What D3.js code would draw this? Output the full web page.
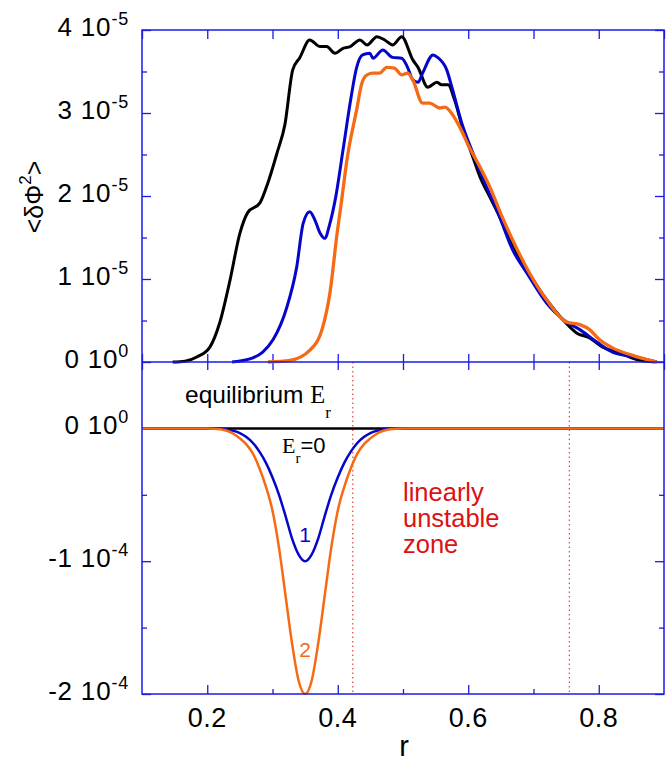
<!DOCTYPE html>
<html>
<head>
<meta charset="utf-8">
<script src="https://cdn.jsdelivr.net/npm/d3@7"></script>
<style>
  body { margin: 0; background: #fff; }
  text { font-family: "Liberation Sans", Arial, sans-serif; }
</style>
</head>
<body>
<script>
// fluctuation level <dPhi^2> (units of 1e-5) for the three runs
var rBlack = [0.147, 0.166, 0.184, 0.204, 0.219, 0.235, 0.250, 0.262, 0.281, 0.293, 0.307, 0.319, 0.331, 0.342, 0.357,
  0.373, 0.383, 0.396, 0.408, 0.419, 0.434, 0.445, 0.460, 0.472, 0.484, 0.498, 0.515, 0.523, 0.538, 0.552, 0.559,
  0.569, 0.579, 0.592, 0.607, 0.618, 0.633, 0.648, 0.664, 0.690, 0.720, 0.745, 0.766, 0.786, 0.806, 0.832, 0.863, 0.886];
var phiBlack = [0, 0.01, 0.06, 0.18, 0.47, 0.99, 1.55, 1.80, 1.92, 2.16, 2.52, 2.86, 3.52, 3.67, 3.88,
  3.80, 3.80, 3.72, 3.78, 3.80, 3.88, 3.82, 3.92, 3.88, 3.82, 3.92, 3.64, 3.55, 3.31, 3.37, 3.34,
  3.34, 3.16, 2.80, 2.47, 2.23, 1.99, 1.75, 1.47, 1.11, 0.75, 0.51, 0.35, 0.29, 0.18, 0.11, 0.02, 0];

var rBlue = [0.238, 0.270, 0.285, 0.301, 0.322, 0.337, 0.347, 0.357, 0.365, 0.373, 0.380, 0.388, 0.396, 0.408, 0.419,
  0.429, 0.438, 0.449, 0.454, 0.469, 0.484, 0.498, 0.507, 0.515, 0.523, 0.530, 0.546, 0.553, 0.567, 0.576, 0.590,
  0.607, 0.628, 0.644, 0.668, 0.690, 0.720, 0.751, 0.771, 0.797, 0.821, 0.863, 0.889];
var phiBlue = [0, 0.05, 0.12, 0.27, 0.66, 1.14, 1.67, 1.81, 1.71, 1.55, 1.49, 1.67, 1.95, 2.55, 3.12,
  3.55, 3.70, 3.72, 3.66, 3.76, 3.67, 3.66, 3.55, 3.40, 3.37, 3.48, 3.70, 3.67, 3.52, 3.28, 2.88,
  2.52, 2.11, 1.83, 1.35, 1.07, 0.71, 0.48, 0.39, 0.24, 0.12, 0.05, 0];

var rOrange = [0.293, 0.327, 0.357, 0.377, 0.388, 0.399, 0.406, 0.414, 0.429, 0.437, 0.445, 0.454, 0.464, 0.475, 0.487,
  0.498, 0.507, 0.515, 0.530, 0.541, 0.556, 0.564, 0.576, 0.587, 0.602, 0.618, 0.633, 0.653, 0.668, 0.694, 0.720,
  0.751, 0.771, 0.786, 0.801, 0.821, 0.852, 0.889];
var phiOrange = [0, 0.02, 0.14, 0.42, 0.83, 1.55, 1.95, 2.43, 3.04, 3.36, 3.46, 3.48, 3.48, 3.55, 3.54,
  3.46, 3.48, 3.40, 3.12, 3.12, 3.06, 3.07, 2.98, 2.83, 2.58, 2.35, 2.11, 1.73, 1.47, 1.07, 0.75,
  0.48, 0.45, 0.39, 0.27, 0.17, 0.08, 0];

// equilibrium radial electric field Er (units of 1e-4)
var rEr = [0.10, 0.19, 0.20, 0.21, 0.22, 0.23, 0.24, 0.25, 0.26, 0.27, 0.28, 0.29, 0.30, 0.31, 0.32, 0.33, 0.34, 0.35,
  0.36, 0.37, 0.38, 0.39, 0.40, 0.41, 0.42, 0.43, 0.44, 0.45, 0.46, 0.47, 0.48, 0.49, 0.50, 0.51, 0.90];
var erZero = [0, 0, 0, 0, 0, 0, 0, 0, 0, 0, 0, 0, 0, 0, 0, 0, 0, 0,
  0, 0, 0, 0, 0, 0, 0, 0, 0, 0, 0, 0, 0, 0, 0, 0, 0];
var erOne = [0, 0, 0, 0, -0.003, -0.008, -0.018, -0.035, -0.065, -0.11, -0.175, -0.26, -0.37, -0.50, -0.66, -0.83, -0.95, -1.0,
  -0.95, -0.83, -0.66, -0.50, -0.37, -0.26, -0.175, -0.11, -0.065, -0.035, -0.018, -0.008, -0.003, 0, 0, 0, 0];
var erTwo = [0, 0, 0, -0.002, -0.007, -0.018, -0.04, -0.075, -0.12, -0.19, -0.30, -0.44, -0.62, -0.90, -1.26, -1.62, -1.90, -2.0,
  -1.90, -1.62, -1.26, -0.90, -0.62, -0.44, -0.30, -0.19, -0.12, -0.075, -0.04, -0.018, -0.007, -0.002, 0, 0, 0];

// edges of the linearly unstable zone
var unstableEdges = [0.423, 0.755];

var xTicks = [0.2, 0.4, 0.6, 0.8];
var phiTicks = [0, 1, 2, 3, 4];
var erTicks = [0, -1, -2];

var plotLeft = 142, plotRight = 664, plotTop = 30, plotMid = 362, plotBottom = 694;
var axisColor = "#1a1ae8";
var blue = "#0505cc", orange = "#f66a14";

var svg = d3.select("body").append("svg")
    .attr("width", 666)
    .attr("height", 762);

var x = d3.scaleLinear().domain([0.1, 0.9]).range([plotLeft, plotRight]);
var yTop = d3.scaleLinear().domain([0, 4]).range([plotMid, plotTop]);
var yBot = d3.scaleLinear().domain([-2, 0.5]).range([plotBottom, plotMid]);

var lineTop = d3.line().x(function(d) { return x(d[0]); }).y(function(d) { return yTop(d[1]); }).curve(d3.curveMonotoneX);
var lineBot = d3.line().x(function(d) { return x(d[0]); }).y(function(d) { return yBot(d[1]); }).curve(d3.curveMonotoneX);

// ticks (axes without labels; labels are drawn separately for the "a 10^b" style)
function ticks(axis, tr, size) {
  var g = svg.append("g").attr("transform", tr)
    .call(axis.tickSize(size).tickFormat(""));
  g.select(".domain").remove();
  g.selectAll("line").attr("stroke", axisColor).attr("stroke-width", 1.3);
}
var xAll = d3.range(0.1, 0.91, 0.1);
ticks(d3.axisTop(x).tickValues(xAll), "translate(0," + plotTop + ")", -9);
ticks(d3.axisTop(x).tickValues(xAll), "translate(0," + plotMid + ")", 8);
ticks(d3.axisBottom(x).tickValues(xAll), "translate(0," + plotMid + ")", 8);
ticks(d3.axisBottom(x).tickValues(xTicks), "translate(0," + plotBottom + ")", -9);
ticks(d3.axisBottom(x).tickValues([0.3, 0.5, 0.7]), "translate(0," + plotBottom + ")", -5);

ticks(d3.axisLeft(yTop).tickValues(phiTicks), "translate(" + plotLeft + ",0)", -9);
ticks(d3.axisLeft(yTop).tickValues([0.5, 1.5, 2.5, 3.5]), "translate(" + plotLeft + ",0)", -5);
ticks(d3.axisRight(yTop).tickValues(phiTicks), "translate(" + plotRight + ",0)", -9);
ticks(d3.axisRight(yTop).tickValues([0.5, 1.5, 2.5, 3.5]), "translate(" + plotRight + ",0)", -5);
ticks(d3.axisLeft(yBot).tickValues(erTicks), "translate(" + plotLeft + ",0)", -9);
ticks(d3.axisLeft(yBot).tickValues([-0.5, -1.5]), "translate(" + plotLeft + ",0)", -5);
ticks(d3.axisRight(yBot).tickValues(erTicks), "translate(" + plotRight + ",0)", -9);
ticks(d3.axisRight(yBot).tickValues([-0.5, -1.5]), "translate(" + plotRight + ",0)", -5);

// unstable zone edges
svg.selectAll(".edge").data(unstableEdges).enter().append("line")
  .attr("class", "edge")
  .attr("x1", function(d) { return x(d); }).attr("x2", function(d) { return x(d); })
  .attr("y1", plotMid).attr("y2", plotBottom)
  .attr("stroke", "#e25555").attr("stroke-width", 1.3).attr("stroke-dasharray", "1.5,3");

// curves
var topSeries = [[rBlack, phiBlack, "#000", 3], [rBlue, phiBlue, blue, 3], [rOrange, phiOrange, orange, 3.3]];
topSeries.forEach(function(s) {
  svg.append("path")
    .attr("d", lineTop(d3.zip(s[0], s[1])))
    .attr("fill", "none").attr("stroke", s[2]).attr("stroke-width", s[3])
    .attr("stroke-linejoin", "round");
});
var botSeries = [[erZero, "#000"], [erOne, blue], [erTwo, orange]];
botSeries.forEach(function(s) {
  svg.append("path")
    .attr("d", lineBot(d3.zip(rEr, s[0])))
    .attr("fill", "none").attr("stroke", s[1]).attr("stroke-width", 2.5);
});

// frames
svg.append("rect").attr("x", plotLeft).attr("y", plotTop)
  .attr("width", plotRight - plotLeft).attr("height", plotBottom - plotTop)
  .attr("fill", "none").attr("stroke", axisColor).attr("stroke-width", 1.5);
svg.append("line").attr("x1", plotLeft).attr("x2", plotRight).attr("y1", plotMid).attr("y2", plotMid)
  .attr("stroke", axisColor).attr("stroke-width", 1.5);

// tick labels
function sciLabel(yPos, mant, expo) {
  var t = svg.append("text").attr("x", 129).attr("y", yPos + 6)
    .attr("text-anchor", "end").attr("font-size", 26).attr("letter-spacing", 0.8).attr("fill", "#000");
  t.append("tspan").text(mant + " 10");
  t.append("tspan").attr("font-size", 18).attr("dy", -11).text(expo);
}
phiTicks.forEach(function(v) { sciLabel(yTop(v), v, v === 0 ? "0" : "-5"); });
erTicks.forEach(function(v) { sciLabel(yBot(v), v === 0 ? "0" : "-" + Math.abs(v), v === 0 ? "0" : "-4"); });

svg.selectAll(".xl").data(xTicks).enter().append("text")
  .attr("class", "xl")
  .attr("x", function(d) { return x(d); }).attr("y", 727)
  .attr("text-anchor", "middle").attr("font-size", 27).attr("letter-spacing", 0.5)
  .text(function(d) { return d.toFixed(1); });

svg.append("text").attr("x", 404).attr("y", 756).attr("text-anchor", "middle")
  .attr("font-size", 29).text("r");

var yt = svg.append("text").attr("transform", "translate(43,197) rotate(-90)")
  .attr("text-anchor", "middle").attr("font-size", 25);
yt.append("tspan").text("<δΦ");
yt.append("tspan").attr("font-size", 17).attr("dy", -12).text("2");
yt.append("tspan").attr("dy", 12).text(">");

// annotations
var serif = "'Liberation Serif', 'Times New Roman', serif";
var eq = svg.append("text").attr("x", 185).attr("y", 403).attr("font-size", 24.5);
eq.append("tspan").text("equilibrium ");
eq.append("tspan").style("font-family", serif).text("E");
eq.append("tspan").style("font-family", serif).attr("font-size", 17).attr("dy", 15).text("r");

var e0 = svg.append("text").attr("x", 282).attr("y", 453).attr("font-size", 22);
e0.append("tspan").style("font-family", serif).text("E");
e0.append("tspan").style("font-family", serif).attr("font-size", 15).attr("dy", 10).text("r");
e0.append("tspan").attr("dy", -10).text("=0");

svg.append("text").attr("x", x(0.35)).attr("y", 542).attr("text-anchor", "middle")
  .attr("font-size", 21).attr("fill", blue).text("1");
svg.append("text").attr("x", x(0.35)).attr("y", 657).attr("text-anchor", "middle")
  .attr("font-size", 21).attr("fill", orange).text("2");

var zone = svg.append("text").attr("font-size", 25.5).attr("fill", "#dd1111");
["linearly", "unstable", "zone"].forEach(function(w, i) {
  zone.append("tspan").attr("x", 403).attr("y", 501 + i * 26).text(w);
});
</script>
</body>
</html>
